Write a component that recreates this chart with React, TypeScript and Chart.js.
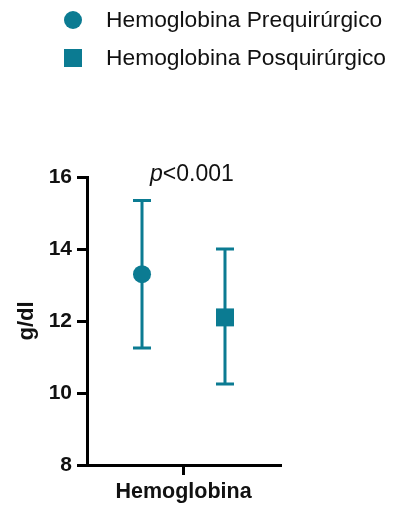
import React, { useEffect, useRef } from "react";
import { Chart, registerables } from "chart.js";

Chart.register(...registerables);

const categories = ["Hemoglobina"];
const seriesNames = ["Hemoglobina Prequirúrgico", "Hemoglobina Posquirúrgico"];
const seriesStyles = ["circle", "rect"];
const groupOffsets = [-0.43, 0.43];
const means = [13.3, 12.1];
const upperValues = [15.35, 14.0];
const lowerValues = [11.25, 10.25];
const yTicks = [8, 10, 12, 14, 16];
const yTitle = "g/dl";
const pText = "<0.001";

const TEAL = "#0B7B92";
const FONT = "Arial, 'Liberation Sans', Helvetica, sans-serif";

export default function App() {
  const ref = useRef<HTMLCanvasElement | null>(null);
  useEffect(() => {
    if (!ref.current) return;
    const errorBars = {
      id: "errorBars",
      beforeDatasetsDraw(chart: any) {
        const { ctx } = chart;
        const xs = chart.scales.x;
        const ys = chart.scales.y;
        ctx.save();
        ctx.strokeStyle = TEAL;
        ctx.lineWidth = 3;
        means.forEach((_, i) => {
          const x = xs.getPixelForValue(groupOffsets[i]);
          const yTop = ys.getPixelForValue(upperValues[i]);
          const yBot = ys.getPixelForValue(lowerValues[i]);
          ctx.beginPath();
          ctx.moveTo(x, yTop);
          ctx.lineTo(x, yBot);
          ctx.moveTo(x - 9, yTop);
          ctx.lineTo(x + 9, yTop);
          ctx.moveTo(x - 9, yBot);
          ctx.lineTo(x + 9, yBot);
          ctx.stroke();
        });
        ctx.restore();
      },
    };
    const extras = {
      id: "extras",
      afterDraw(chart: any) {
        const { ctx } = chart;
        ctx.save();
        seriesNames.forEach((name, i) => {
          const cy = 20 + i * 38;
          ctx.fillStyle = TEAL;
          if (seriesStyles[i] === "circle") {
            ctx.beginPath();
            ctx.arc(73, cy, 9, 0, Math.PI * 2);
            ctx.fill();
          } else {
            ctx.fillRect(64, cy - 9, 18, 18);
          }
          ctx.fillStyle = "#111";
          ctx.font = `22.8px ${FONT}`;
          ctx.textBaseline = "middle";
          ctx.textAlign = "left";
          ctx.fillText(name, 106, cy + 1);
        });
        ctx.fillStyle = "#111";
        ctx.textBaseline = "alphabetic";
        ctx.font = `italic 23px ${FONT}`;
        const px = 150;
        const py = 181;
        ctx.fillText("p", px, py);
        const w = ctx.measureText("p").width;
        ctx.font = `23px ${FONT}`;
        ctx.fillText(pText, px + w, py);
        ctx.restore();
      },
    };
    const chart = new Chart(ref.current, {
      type: "scatter",
      data: {
        datasets: seriesNames.map((name, i) => ({
          label: name,
          data: [{ x: groupOffsets[i], y: means[i] }],
          pointStyle: seriesStyles[i] as any,
          pointRadius: seriesStyles[i] === "circle" ? 9 : 12.7,
          pointHoverRadius: seriesStyles[i] === "circle" ? 9 : 12.7,
          backgroundColor: TEAL,
          borderColor: TEAL,
          borderWidth: 0,
        })),
      },
      options: {
        animation: false,
        responsive: false,
        events: [],
        layout: { padding: { left: 0, right: 116, top: 177, bottom: 0 } },
        plugins: { legend: { display: false }, tooltip: { enabled: false } },
        scales: {
          x: {
            type: "linear",
            min: -1,
            max: 1,
            afterBuildTicks(axis: any) {
              axis.ticks = categories.map(() => ({ value: 0 }));
            },
            afterFit(scale: any) {
              scale.height = 41;
            },
            ticks: {
              color: "#111",
              font: { family: FONT, size: 21.5, weight: "bold" },
              padding: 4,
              callback: (_v: any, i: number) => categories[i],
            },
            grid: {
              display: true,
              drawOnChartArea: false,
              drawTicks: true,
              tickLength: 10,
              color: "#000",
              lineWidth: 3,
            },
            border: { display: true, color: "#000", width: 3 },
          },
          y: {
            type: "linear",
            min: yTicks[0],
            max: yTicks[yTicks.length - 1],
            afterBuildTicks(axis: any) {
              axis.ticks = yTicks.map((v) => ({ value: v }));
            },
            afterFit(scale: any) {
              scale.width = 87;
            },
            ticks: {
              color: "#111",
              font: { family: FONT, size: 21, weight: "bold" },
              padding: 5,
            },
            title: {
              display: true,
              text: yTitle,
              color: "#111",
              font: { family: FONT, size: 22, weight: "bold" },
              padding: { top: 14, bottom: 0 },
            },
            grid: {
              display: true,
              drawOnChartArea: false,
              drawTicks: true,
              tickLength: 10,
              color: "#000",
              lineWidth: 3,
            },
            border: { display: true, color: "#000", width: 3 },
          },
        },
      },
      plugins: [errorBars, extras],
    });
    return () => chart.destroy();
  }, []);
  return (
    <div style={{ position: "fixed", left: 0, top: 0, width: 396, height: 506, background: "#fff" }}>
      <canvas ref={ref} width={396} height={506} style={{ width: 396, height: 506 }} />
    </div>
  );
}
